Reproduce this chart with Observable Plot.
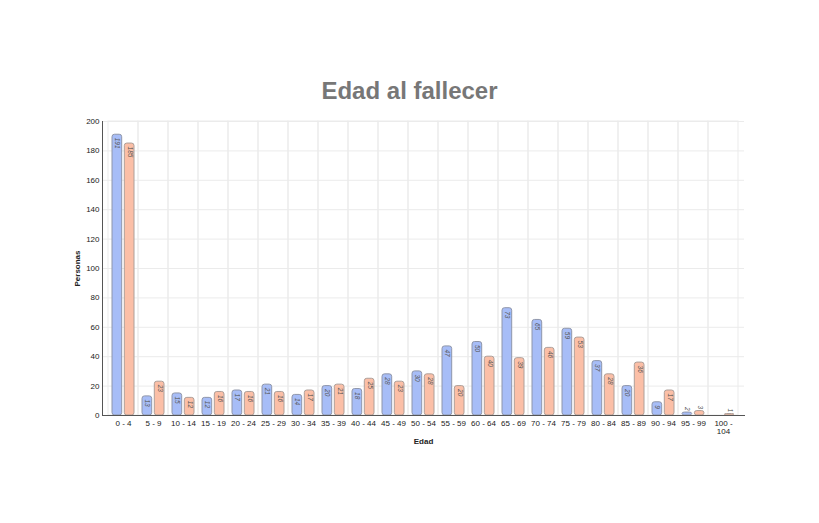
<!DOCTYPE html>
<html><head><meta charset="utf-8">
<script src="https://cdn.jsdelivr.net/npm/d3@7"></script>
<script src="https://cdn.jsdelivr.net/npm/@observablehq/plot@0.6"></script>
<style>
body{margin:0;background:#fff;font-family:"Liberation Sans",Arial,sans-serif;}
#title{box-sizing:border-box;height:110px;padding-top:79px;line-height:24px;font-size:24px;font-weight:bold;color:#777;text-align:center;margin:0}
#chart svg{display:block}
</style></head><body>
<div id="title">Edad al fallecer</div>
<div id="chart"></div>
<script>
const categorias = ["0 - 4","5 - 9","10 - 14","15 - 19","20 - 24","25 - 29","30 - 34","35 - 39","40 - 44","45 - 49","50 - 54","55 - 59","60 - 64","65 - 69","70 - 74","75 - 79","80 - 84","85 - 89","90 - 94","95 - 99","100 - 104"];
const serieAzul = [191,13,15,12,17,21,14,20,18,28,30,47,50,73,65,59,37,20,9,2,0];
const serieSalmon = [185,23,12,16,16,16,17,21,25,23,28,20,40,39,46,53,28,36,17,3,1];
const yTicks = [0,20,40,60,80,100,120,140,160,180,200];

const filasA = categorias.map((c,i)=>({cat:c, v:serieAzul[i]})).filter(d=>d.v>0);
const filasB = categorias.map((c,i)=>({cat:c, v:serieSalmon[i]})).filter(d=>d.v>0);

const labelMarks = (rows, dx) => [
  Plot.text(rows.filter(d=>d.v>=6), {x:"cat", y:"v", text:d=>String(d.v), rotate:90, textAnchor:"start", dx, dy:3, fontSize:6.5, fontStyle:"italic", fill:"#555"}),
  Plot.text(rows.filter(d=>d.v<6), {x:"cat", y:"v", text:d=>String(d.v), rotate:90, textAnchor:"end", dx, dy:-2, fontSize:6.5, fontStyle:"italic", fill:"#555"})
];

const chart = Plot.plot({
  width: 819, height: 413,
  marginTop: 11, marginBottom: 108, marginLeft: 102, marginRight: 75,
  style: {fontFamily: "Liberation Sans, Arial, sans-serif", fontSize: "8px", color: "#222", background: "white"},
  x: {domain: categorias, padding: 0, label: null},
  y: {domain: [0,200], label: null},
  marks: [
    Plot.gridY(yTicks, {stroke: "#ebebeb", strokeOpacity: 1}),
    Plot.barY(categorias, {x: d=>d, y1: 0, y2: 200, fill: "none", stroke: "#ebebeb"}),
    Plot.barY(filasA, {x: "cat", y: "v", fill: "#a7bdf7", stroke: "#8f96aa", insetLeft: 4, insetRight: 16.3, rx: 2.5}),
    Plot.barY(filasB, {x: "cat", y: "v", fill: "#fbbfa7", stroke: "#ad9f99", insetLeft: 16.3, insetRight: 4, rx: 2.5}),
    ...labelMarks(filasA, -6.2),
    ...labelMarks(filasB, 6.1),
    Plot.axisY({ticks: yTicks, tickSize: 0, tickPadding: 3, label: null}),
    Plot.axisX({tickSize: 0, tickPadding: 5, label: null, tickFormat: d => d.length > 7 ? d.replace(" - ", " -\n") : d}),
    Plot.frame({anchor: "left", stroke: "#555"}),
    Plot.frame({anchor: "bottom", stroke: "#555"}),
    Plot.text(["Edad"], {frameAnchor: "bottom", dy: 28, fontWeight: "bold", fontSize: 8, fill: "#222"}),
    Plot.text(["Personas"], {frameAnchor: "left", dx: -25, rotate: -90, textAnchor: "middle", fontWeight: "bold", fontSize: 8, fill: "#222"})
  ]
});
document.getElementById("chart").append(chart);
</script>
</body></html>
